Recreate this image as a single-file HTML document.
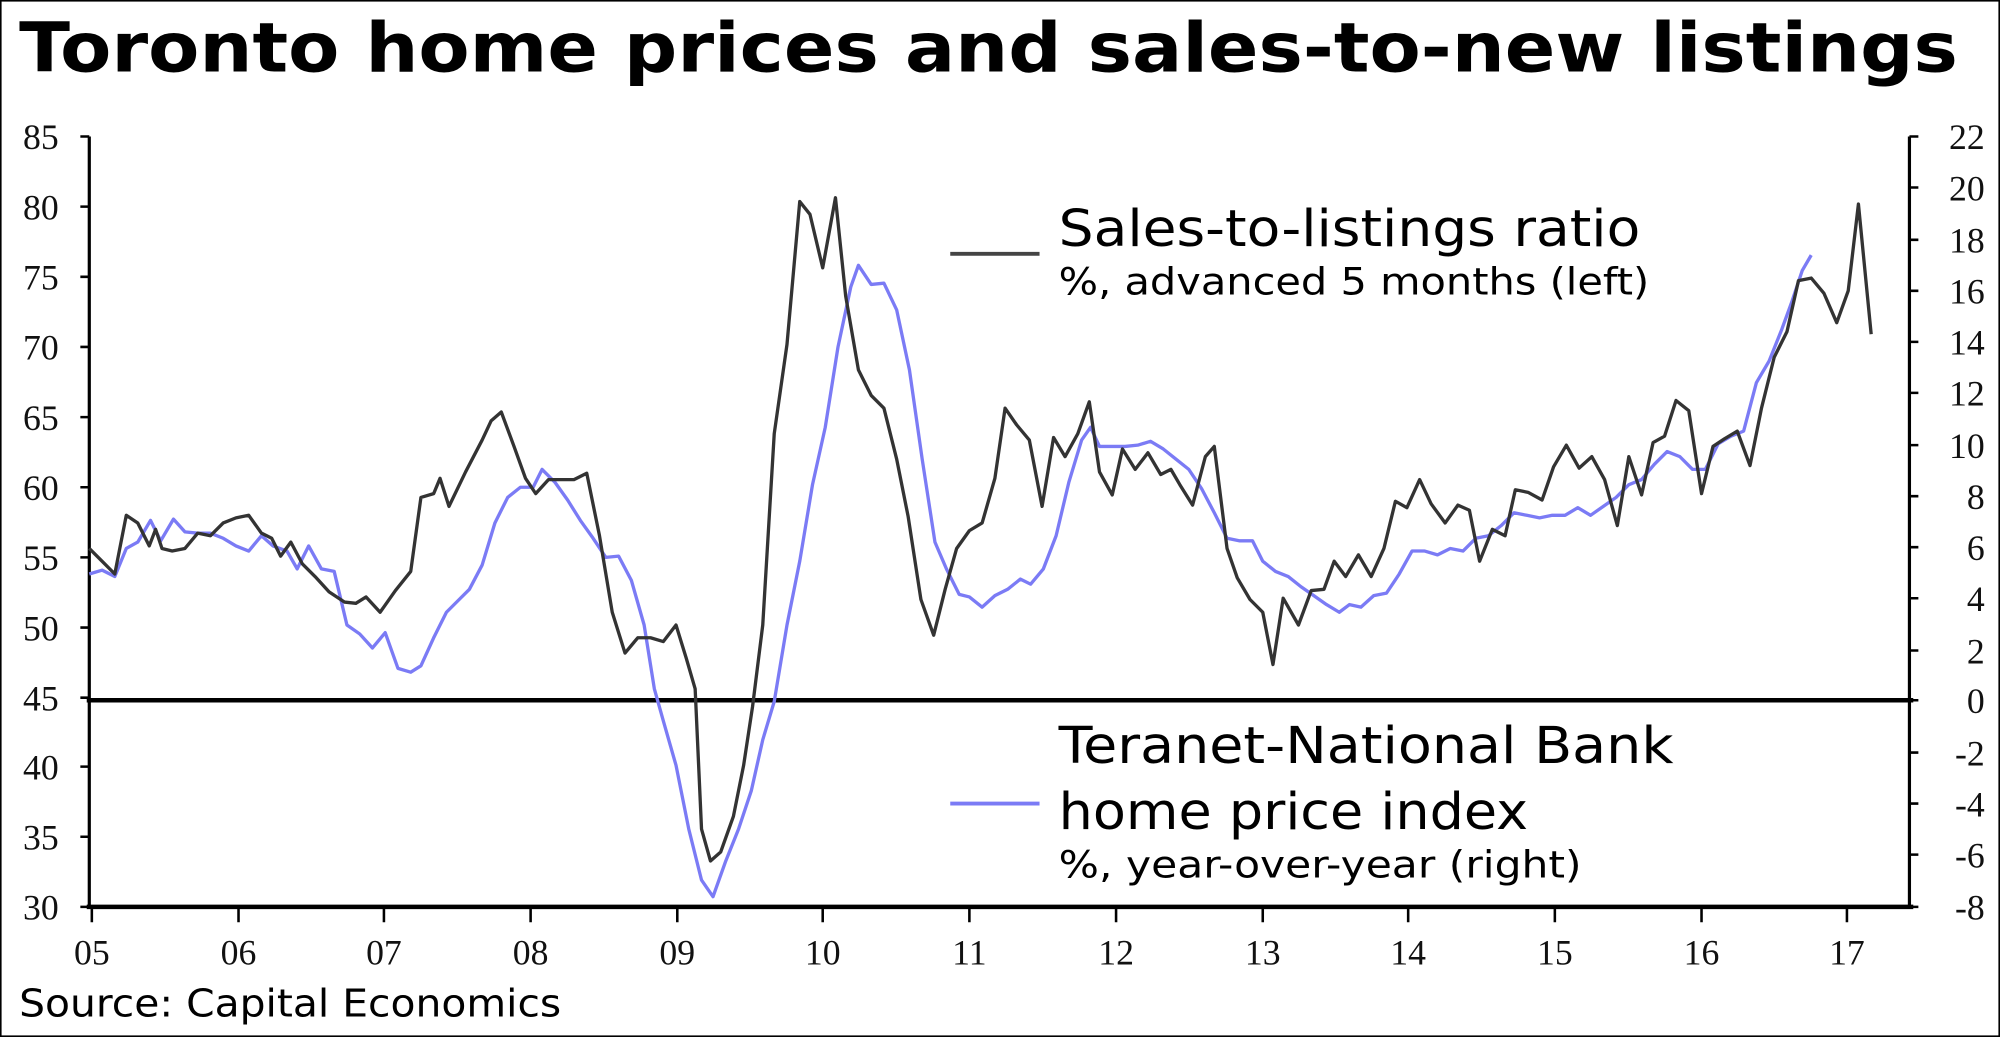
<!DOCTYPE html>
<html><head><meta charset="utf-8"><style>
html,body{margin:0;padding:0;background:#fff;}
svg{display:block;}
</style></head><body>
<svg width="2000" height="1037" viewBox="0 0 1568 813" preserveAspectRatio="none" xmlns="http://www.w3.org/2000/svg">
<rect x="0.5" y="0.5" width="1567" height="812" fill="#fff" stroke="#000" stroke-width="1.5"/>
<text x="15" y="56" font-family="DejaVu Sans, Liberation Sans, sans-serif" font-weight="bold" font-size="54" textLength="1520" lengthAdjust="spacingAndGlyphs">Toronto home prices and sales-to-new listings</text>

<g stroke="#000" stroke-width="2.5" fill="none">
<line x1="70" y1="107" x2="70" y2="712"/>
<line x1="1497" y1="107" x2="1497" y2="712"/>
<line x1="68" y1="711" x2="1500" y2="711" stroke-width="3.5"/>
<line x1="68" y1="549" x2="1500" y2="549" stroke-width="3.5"/>
</g>
<g stroke="#000" stroke-width="2">
<path d="M63 107H70M63 162H70M63 217H70M63 272H70M63 327H70M63 382H70M63 437H70M63 492H70M63 547H70M63 601H70M63 656H70M63 711H70"/>
<path d="M1497 107H1504M1497 147H1504M1497 188H1504M1497 228H1504M1497 268H1504M1497 308H1504M1497 349H1504M1497 389H1504M1497 429H1504M1497 469H1504M1497 510H1504M1497 549H1504M1497 590H1504M1497 630H1504M1497 670H1504M1497 711H1504"/>
<path d="M72 711V723M187 711V723M301 711V723M416 711V723M531 711V723M645 711V723M760 711V723M875 711V723M990 711V723M1104 711V723M1219 711V723M1334 711V723M1448 711V723"/>
</g>
<g font-family="Liberation Serif, serif" font-size="28" fill="#111" text-anchor="end">
<text x="46" y="117">85</text><text x="46" y="172">80</text><text x="46" y="227">75</text><text x="46" y="282">70</text><text x="46" y="337">65</text><text x="46" y="392">60</text><text x="46" y="447">55</text><text x="46" y="502">50</text><text x="46" y="557">45</text><text x="46" y="611">40</text><text x="46" y="666">35</text><text x="46" y="721">30</text>
</g>
<g font-family="Liberation Serif, serif" font-size="28" fill="#111" text-anchor="end">
<text x="1556" y="117">22</text><text x="1556" y="157">20</text><text x="1556" y="198">18</text><text x="1556" y="238">16</text><text x="1556" y="278">14</text><text x="1556" y="318">12</text><text x="1556" y="359">10</text><text x="1556" y="399">8</text><text x="1556" y="439">6</text><text x="1556" y="479">4</text><text x="1556" y="520">2</text><text x="1556" y="559">0</text><text x="1556" y="600">-2</text><text x="1556" y="640">-4</text><text x="1556" y="680">-6</text><text x="1556" y="721">-8</text>
</g>
<g font-family="Liberation Serif, serif" font-size="28" fill="#111" text-anchor="middle">
<text x="72" y="756">05</text><text x="187" y="756">06</text><text x="301" y="756">07</text><text x="416" y="756">08</text><text x="531" y="756">09</text><text x="645" y="756">10</text><text x="760" y="756">11</text><text x="875" y="756">12</text><text x="990" y="756">13</text><text x="1104" y="756">14</text><text x="1219" y="756">15</text><text x="1334" y="756">16</text><text x="1448" y="756">17</text>
</g>

<polyline fill="none" stroke="#7b7bf5" stroke-width="2.6" stroke-linejoin="round" points="70,450 80,447 90,452 99,430 108,425 118,408 126,424 136,407 145,417 155,418 165,418 175,422 185,428 195,432 205,420 214,428 225,432 233,446 242,428 252,446 262,448 272,490 282,497 292,508 302,496 312,524 322,527 330,522 340,500 350,480 360,470 368,462 378,443 388,410 398,390 408,382 418,382 425,368 435,378 445,392 455,408 465,422 475,437 485,436 495,455 505,490 513,540 520,565 530,600 540,650 550,690 559,703 569,675 579,650 589,620 598,580 607,550 617,490 627,440 637,380 647,335 657,272 667,225 673,208 683,223 693,222 703,243 713,290 723,360 733,425 742,446 752,466 760,468 770,476 780,467 790,462 800,454 808,458 818,446 828,420 838,378 848,345 855,335 862,350 872,350 882,350 892,349 902,346 912,352 922,360 932,368 942,383 952,402 962,422 972,424 982,424 990,440 1000,448 1010,452 1020,460 1030,467 1040,474 1050,480 1058,474 1067,476 1077,467 1087,465 1097,450 1107,432 1117,432 1127,435 1137,430 1147,432 1157,422 1167,420 1177,412 1187,402 1197,404 1207,406 1217,404 1227,404 1237,398 1247,404 1257,397 1267,390 1277,380 1287,376 1297,364 1307,354 1317,358 1327,368 1337,368 1347,348 1357,342 1367,338 1377,300 1387,283 1397,258 1405,236 1413,212 1420,200"/>
<polyline fill="none" stroke="#333" stroke-width="2.6" stroke-linejoin="round" points="70,430 80,440 90,450 99,404 108,410 117,428 122,415 127,430 135,432 145,430 155,418 165,420 175,410 185,406 195,404 205,418 213,422 220,436 228,425 237,442 247,452 258,464 270,472 279,473 287,468 298,480 310,463 322,448 330,390 340,387 345,375 352,397 365,370 378,345 385,330 393,323 403,350 412,375 420,387 430,376 440,376 450,376 460,371 470,420 480,480 490,512 500,500 510,500 520,503 530,490 538,516 545,540 550,650 557,675 565,668 575,640 583,600 590,554 598,490 607,340 617,270 627,158 635,168 645,210 655,155 663,232 673,290 683,310 693,320 703,360 712,405 722,470 732,498 741,462 750,430 760,416 770,410 780,375 788,320 797,333 807,345 817,397 826,343 835,358 845,340 854,315 862,370 872,388 880,352 890,368 900,355 910,372 918,368 925,380 935,396 945,358 952,350 962,430 970,453 980,470 990,480 998,521 1006,469 1018,490 1028,463 1038,462 1046,440 1055,452 1065,435 1075,452 1085,430 1094,393 1103,398 1113,376 1122,395 1133,410 1143,396 1152,400 1160,440 1170,415 1180,420 1188,384 1198,386 1209,392 1218,366 1228,349 1238,367 1248,358 1258,376 1268,412 1277,358 1287,388 1296,347 1305,342 1314,314 1324,322 1334,387 1343,350 1352,344 1362,338 1372,365 1381,320 1391,280 1401,260 1410,220 1420,218 1430,230 1440,253 1449,228 1457,160 1467,262"/>

<line x1="745" y1="199" x2="815" y2="199" stroke="#444" stroke-width="3"/>
<g font-family="DejaVu Sans, Liberation Sans, sans-serif" fill="#000">
<text x="830" y="193" font-size="40" textLength="456" lengthAdjust="spacingAndGlyphs">Sales-to-listings ratio</text>
<text x="830" y="231" font-size="29" textLength="463" lengthAdjust="spacingAndGlyphs">%, advanced 5 months (left)</text>
<text x="830" y="598" font-size="40" textLength="482" lengthAdjust="spacingAndGlyphs">Teranet-National Bank</text>
<text x="830" y="650" font-size="40" textLength="368" lengthAdjust="spacingAndGlyphs">home price index</text>
<text x="830" y="688" font-size="29" textLength="410" lengthAdjust="spacingAndGlyphs">%, year-over-year (right)</text>
<text x="15" y="797" font-size="30" textLength="425" lengthAdjust="spacingAndGlyphs">Source: Capital Economics</text>
</g>
<line x1="745" y1="630" x2="815" y2="630" stroke="#7b7bf5" stroke-width="3"/>
</svg>
</body></html>
